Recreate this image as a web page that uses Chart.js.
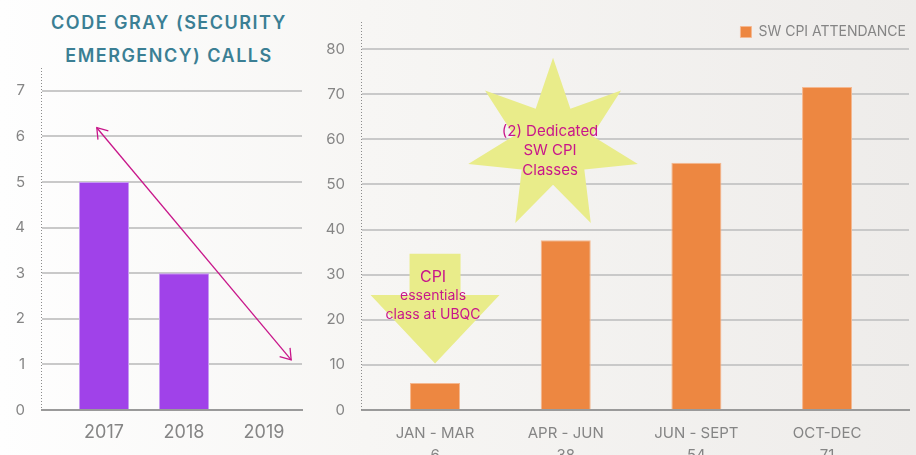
<!DOCTYPE html>
<html>
<head>
<meta charset="utf-8">
<script src="https://cdn.jsdelivr.net/npm/chart.js@4.4.1/dist/chart.umd.min.js"></script>
<style>
  body {
    margin: 0;
    width: 916px;
    height: 455px;
    overflow: hidden;
    position: relative;
    font-family: Inter, "DejaVu Sans", sans-serif;
    background: linear-gradient(to right, #fefefe 0%, #f7f6f4 40%, #eeecea 100%);
  }
  #grayTitle {
    position: absolute;
    left: 0;
    top: 6px;
    width: 338px;
    text-align: center;
    color: #3b7f94;
    font-size: 18px;
    font-weight: 600;
    letter-spacing: 1.5px;
    line-height: 33px;
  }
  #grayChart { position: absolute; left: 0; top: 0; }
  #cpiChart { position: absolute; left: 310px; top: 0; }
</style>
</head>
<body>
<div id="grayTitle">CODE GRAY (SECURITY<br>EMERGENCY) CALLS</div>
<canvas id="grayChart" width="310" height="455"></canvas>
<canvas id="cpiChart" width="606" height="455"></canvas>
<script>
const yearLabels = ["2017", "2018", "2019"];
const grayCalls = [5, 3, 0];

const quarterLabels = ["JAN - MAR", "APR - JUN", "JUN - SEPT", "OCT-DEC"];
const quarterTotals = ["6", "38", "54", "71"];
const cpiAttendance = [6, 37.6, 54.8, 71.6];

const tickGray = "#858585";
const gridGray = "#c9c9c9";
const noteText = "#c8168a";
const noteFill = "#e9ec8a";
const fontFamily = "Inter, 'DejaVu Sans', sans-serif";

// arrow on the left chart, in data units
const trendArrow = { from: [-0.09, 6.19], to: [2.34, 1.1] };

function arrowHead(ctx, fx, fy, tx, ty, len) {
  const a = Math.atan2(ty - fy, tx - fx);
  ctx.beginPath();
  ctx.moveTo(tx - len * Math.cos(a - 0.6), ty - len * Math.sin(a - 0.6));
  ctx.lineTo(tx, ty);
  ctx.lineTo(tx - len * Math.cos(a + 0.6), ty - len * Math.sin(a + 0.6));
  ctx.stroke();
}

function textLines(ctx, lines, cx, cy, gap) {
  const start = cy - ((lines.length - 1) * gap) / 2;
  lines.forEach((l, i) => {
    ctx.font = l.font;
    ctx.fillText(l.text, cx, start + i * gap);
  });
}

// dotted vertical axis line that runs a bit above the top gridline
const dottedAxis = {
  id: "dottedAxis",
  beforeDatasetsDraw(chart, args, opts) {
    const { ctx, chartArea } = chart;
    const x = Math.round(chartArea.left) - 0.5;
    ctx.save();
    ctx.strokeStyle = "#8c8c8c";
    ctx.lineWidth = 1;
    ctx.setLineDash([1, 2]);
    ctx.beginPath();
    ctx.moveTo(x, opts.top);
    ctx.lineTo(x, chartArea.bottom);
    ctx.stroke();
    ctx.restore();
  },
};

const trendPlugin = {
  id: "trend",
  afterDatasetsDraw(chart) {
    const { ctx, scales } = chart;
    const x1 = scales.x.getPixelForValue(trendArrow.from[0]);
    const y1 = scales.y.getPixelForValue(trendArrow.from[1]);
    const x2 = scales.x.getPixelForValue(trendArrow.to[0]);
    const y2 = scales.y.getPixelForValue(trendArrow.to[1]);
    ctx.save();
    ctx.strokeStyle = noteText;
    ctx.lineWidth = 1.3;
    ctx.beginPath();
    ctx.moveTo(x1, y1);
    ctx.lineTo(x2, y2);
    ctx.stroke();
    arrowHead(ctx, x2, y2, x1, y1, 12);
    arrowHead(ctx, x1, y1, x2, y2, 12);
    ctx.restore();
  },
};

const notesPlugin = {
  id: "notes",
  afterDatasetsDraw(chart) {
    const { ctx, scales } = chart;
    const xs = scales.x, ys = scales.y;
    ctx.save();

    // yellow down arrow over the first quarter
    const ax = xs.getPixelForValue(0);
    const half = 25.5, headHalf = 64.5;
    const top = ys.getPixelForValue(34.6);
    const neck = ys.getPixelForValue(25.5);
    const tip = ys.getPixelForValue(10.3);
    ctx.fillStyle = noteFill;
    ctx.beginPath();
    ctx.moveTo(ax - half, top);
    ctx.lineTo(ax + half, top);
    ctx.lineTo(ax + half, neck);
    ctx.lineTo(ax + headHalf, neck);
    ctx.lineTo(ax, tip);
    ctx.lineTo(ax - headHalf, neck);
    ctx.lineTo(ax - half, neck);
    ctx.closePath();
    ctx.fill();

    // seven point star
    const sx = xs.getPixelForValue(0.903);
    const sy = ys.getPixelForValue(58.8);
    const outer = 87, inner = 40;
    ctx.beginPath();
    for (let i = 0; i < 14; i++) {
      const r = i % 2 === 0 ? outer : inner;
      const a = -Math.PI / 2 + (i * Math.PI) / 7;
      const px = sx + r * Math.cos(a), py = sy + r * Math.sin(a);
      if (i === 0) ctx.moveTo(px, py); else ctx.lineTo(px, py);
    }
    ctx.closePath();
    ctx.fill();

    ctx.fillStyle = noteText;
    ctx.textAlign = "center";
    ctx.textBaseline = "middle";
    textLines(ctx, [
      { text: "(2) Dedicated", font: "15px " + fontFamily },
      { text: "SW CPI", font: "15px " + fontFamily },
      { text: "Classes", font: "15px " + fontFamily },
    ], sx - 3, sy + 6, 19.5);
    textLines(ctx, [
      { text: "CPI", font: "16px " + fontFamily },
      { text: "essentials", font: "14px " + fontFamily },
      { text: "class at UBQC", font: "14px " + fontFamily },
    ], ax - 2, ys.getPixelForValue(25.3), 18.5);
    ctx.restore();
  },
};

function baseScales(xMin, xMax, labelFn, xFontSize, yMax, yStep, yWidth) {
  return {
    x: {
      type: "linear",
      offset: false,
      min: xMin,
      max: xMax,
      afterBuildTicks: (axis) => {
        axis.ticks = labelFn.map((_, i) => ({ value: i }));
      },
      afterFit: (axis) => { axis.height = 45; },
      grid: { display: false, drawTicks: false },
      border: { color: "#9a9a9a", width: 2 },
      ticks: {
        padding: 12,
        color: tickGray,
        font: { family: fontFamily, size: xFontSize },
        maxRotation: 0,
        autoSkip: false,
        callback: (v) => labelFn[v],
      },
    },
    y: {
      min: 0,
      max: yMax,
      afterBuildTicks: (axis) => {
        axis.ticks = axis.ticks.filter((t) => t.value % yStep === 0);
      },
      afterFit: (axis) => { axis.width = yWidth; },
      grid: { color: gridGray, lineWidth: 2, drawTicks: false },
      border: { display: false },
      ticks: {
        stepSize: yStep,
        includeBounds: false,
        padding: 17,
        color: tickGray,
        font: { family: fontFamily, size: 15 },
      },
    },
  };
}

new Chart(document.getElementById("grayChart"), {
  type: "bar",
  data: {
    datasets: [{
      label: "Code Gray calls",
      data: grayCalls.map((v, i) => ({ x: i, y: v })),
      backgroundColor: "#a042e9",
      borderColor: "#c69af2",
      borderWidth: 1,
      barPercentage: 0.625,
      categoryPercentage: 1,
    }],
  },
  options: {
    responsive: false,
    animation: false,
    devicePixelRatio: 1,
    layout: { padding: { top: 68, right: 8, left: 0, bottom: 0 } },
    plugins: {
      legend: { display: false },
      tooltip: { enabled: false },
      dottedAxis: { top: 68 },
    },
    scales: baseScales(-0.775, 2.475, yearLabels, 18, 7.5, 1, 42),
  },
  plugins: [dottedAxis, trendPlugin],
});

const quarterTicks = quarterLabels.map((l, i) => [l, quarterTotals[i]]);
const cpiScales = baseScales(-0.559, 3.627, quarterTicks, 15, 80, 10, 52);
cpiScales.x.ticks.font.lineHeight = 1.5;

new Chart(document.getElementById("cpiChart"), {
  type: "bar",
  data: {
    datasets: [{
      label: "SW CPI ATTENDANCE",
      data: cpiAttendance.map((v, i) => ({ x: i, y: v })),
      backgroundColor: "#ed8741",
      borderColor: "#f5b890",
      borderWidth: 1,
      barPercentage: 0.383,
      categoryPercentage: 1,
    }],
  },
  options: {
    responsive: false,
    animation: false,
    devicePixelRatio: 1,
    layout: { padding: { top: 22, right: 7, left: 0, bottom: 0 } },
    plugins: {
      tooltip: { enabled: false },
      dottedAxis: { top: 22 },
      legend: {
        position: "top",
        align: "end",
        labels: {
          boxWidth: 11,
          boxHeight: 11,
          padding: 3,
          color: tickGray,
          font: { family: fontFamily, size: 14 },
        },
      },
    },
    scales: cpiScales,
  },
  plugins: [dottedAxis, notesPlugin],
});
</script>
</body>
</html>
